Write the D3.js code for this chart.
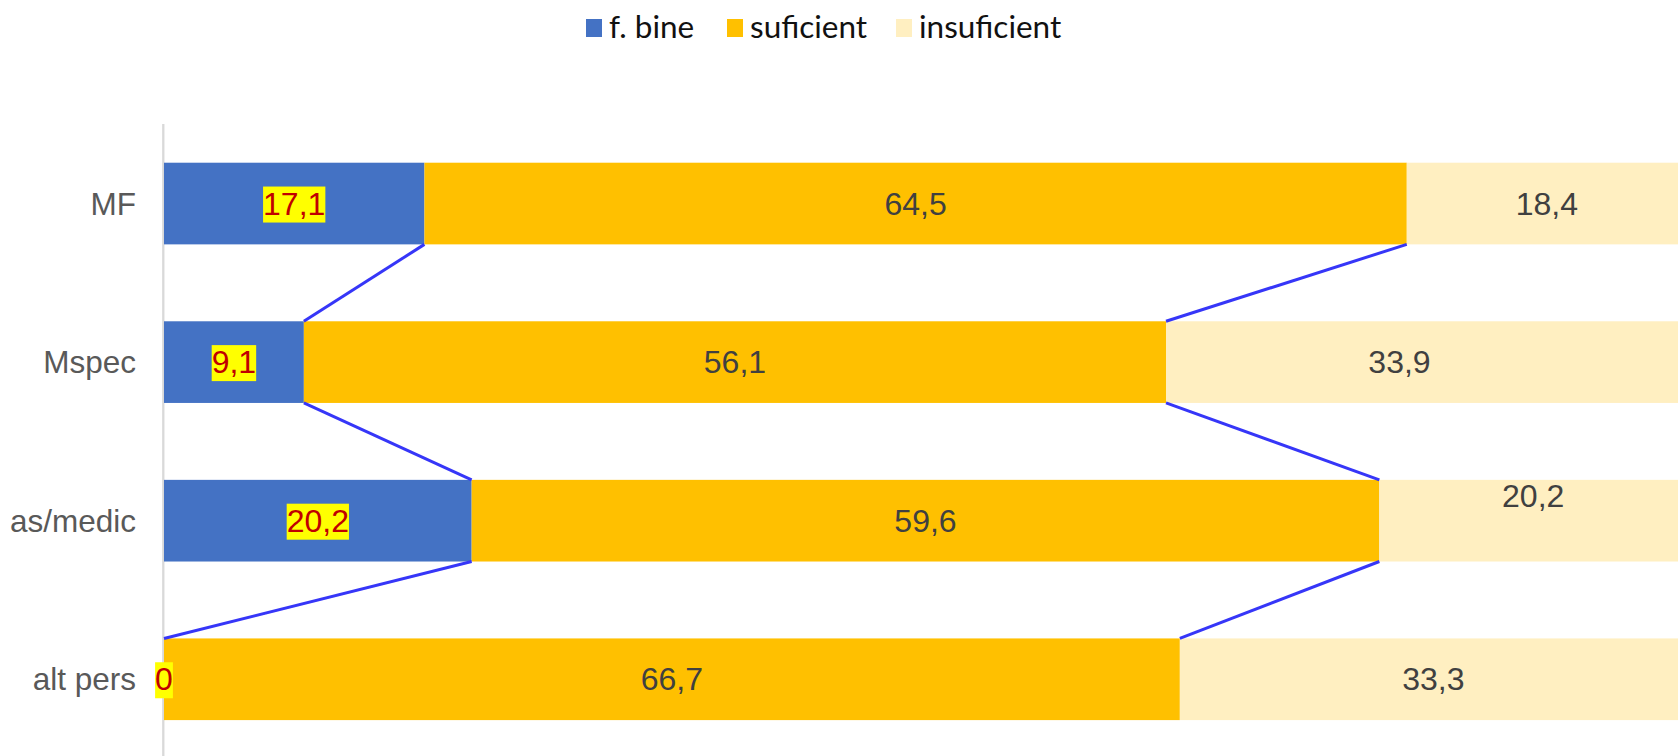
<!DOCTYPE html>
<html>
<head>
<meta charset="utf-8">
<script src="https://cdn.jsdelivr.net/npm/d3@7"></script>
<style>
html, body { margin: 0; padding: 0; background: #fff; overflow: hidden; }
svg { display: block; }
</style>
</head>
<body>
<svg id="chart" width="1678" height="756"></svg>
<script>
const categories = ["MF", "Mspec", "as/medic", "alt pers"];
const seriesNames = ["f. bine", "suficient", "insuficient"];
const fBine = [17.1, 9.1, 20.2, 0];
const suficient = [64.5, 56.1, 59.6, 66.7];
const insuficient = [18.4, 33.9, 20.2, 33.3];
const colors = ["#4472C4", "#FFC000", "#FFEFC1"];

const W = 1678, H = 756;
const svg = d3.select("#chart");

// 100% stacked bar
const x = d3.scaleLinear().domain([0, 1]).range([164, 1687]);
const y = d3.scaleBand().domain(categories).range([85.8, 797]).paddingInner(0.485).paddingOuter(0.485);

const rows = categories.map((c, i) => ({ cat: c, "f. bine": fBine[i], "suficient": suficient[i], "insuficient": insuficient[i] }));
const stacked = d3.stack().keys(seriesNames).offset(d3.stackOffsetExpand)(rows);

// axis line
svg.append("line").attr("x1", 163.3).attr("x2", 163.3).attr("y1", 124).attr("y2", H)
  .attr("stroke", "#d9d9d9").attr("stroke-width", 2.3);

// bars
const g = svg.append("g");
stacked.forEach((s, si) => {
  g.selectAll(null).data(s).enter().append("rect")
    .attr("x", d => x(d[0]))
    .attr("y", d => y(d.data.cat))
    .attr("width", d => x(d[1]) - x(d[0]))
    .attr("height", y.bandwidth())
    .attr("fill", colors[si]);
});

// series lines
const lineG = svg.append("g");
for (let si = 0; si < 2; si++) {
  const s = stacked[si];
  for (let i = 0; i < categories.length - 1; i++) {
    lineG.append("line")
      .attr("x1", x(s[i][1])).attr("y1", y(categories[i]) + y.bandwidth())
      .attr("x2", x(s[i + 1][1])).attr("y2", y(categories[i + 1]))
      .attr("stroke", "#3636F8").attr("stroke-width", 3);
  }
}

// data labels (raw values)
const labelShift = { "as/medic|insuficient": [0, -25], "Mspec|insuficient": [-27, 0] };
const fmt = v => String(v).replace(".", ",");
const labG = svg.append("g");
stacked.forEach((s, si) => {
  s.forEach(d => {
    const sh = labelShift[d.data.cat + "|" + seriesNames[si]] || [0, 0];
    const cx = (x(d[0]) + x(d[1])) / 2 + sh[0];
    const cy = y(d.data.cat) + y.bandwidth() / 2 + sh[1];
    const val = d.data[seriesNames[si]];
    const gg = labG.append("g");
    const t = gg.append("text")
      .attr("x", cx).attr("y", cy)
      .attr("text-anchor", "middle")
      .attr("dominant-baseline", "central")
      .attr("font-family", "Liberation Sans, Arial, sans-serif")
      .attr("font-size", 32)
      .attr("fill", si === 0 ? "#C00000" : "#404040")
      .text(fmt(val));
    if (si === 0) {
      const bb = t.node().getBBox();
      gg.insert("rect", "text")
        .attr("x", bb.x).attr("y", bb.y + 1)
        .attr("width", bb.width).attr("height", bb.height)
        .attr("fill", "#FFFF00");
    }
  });
});

// category labels
svg.append("g").selectAll("text").data(categories).enter().append("text")
  .attr("x", 136)
  .attr("y", d => y(d) + y.bandwidth() / 2)
  .attr("text-anchor", "end")
  .attr("dominant-baseline", "central")
  .attr("font-family", "Liberation Sans, Arial, sans-serif")
  .attr("font-size", 31.5)
  .attr("fill", "#595959")
  .text(d => d);

// legend
const legendX = [586, 727, 896];
const leg = svg.append("g");
seriesNames.forEach((n, i) => {
  leg.append("rect").attr("x", legendX[i]).attr("y", 19).attr("width", 16).attr("height", 18).attr("fill", colors[i]);
  leg.append("text").attr("x", legendX[i] + 23).attr("y", 37.5)
    .attr("font-family", "Lato, sans-serif").attr("font-size", 31.5)
    .attr("fill", "#111")
    .text(n);
});
</script>
</body>
</html>
